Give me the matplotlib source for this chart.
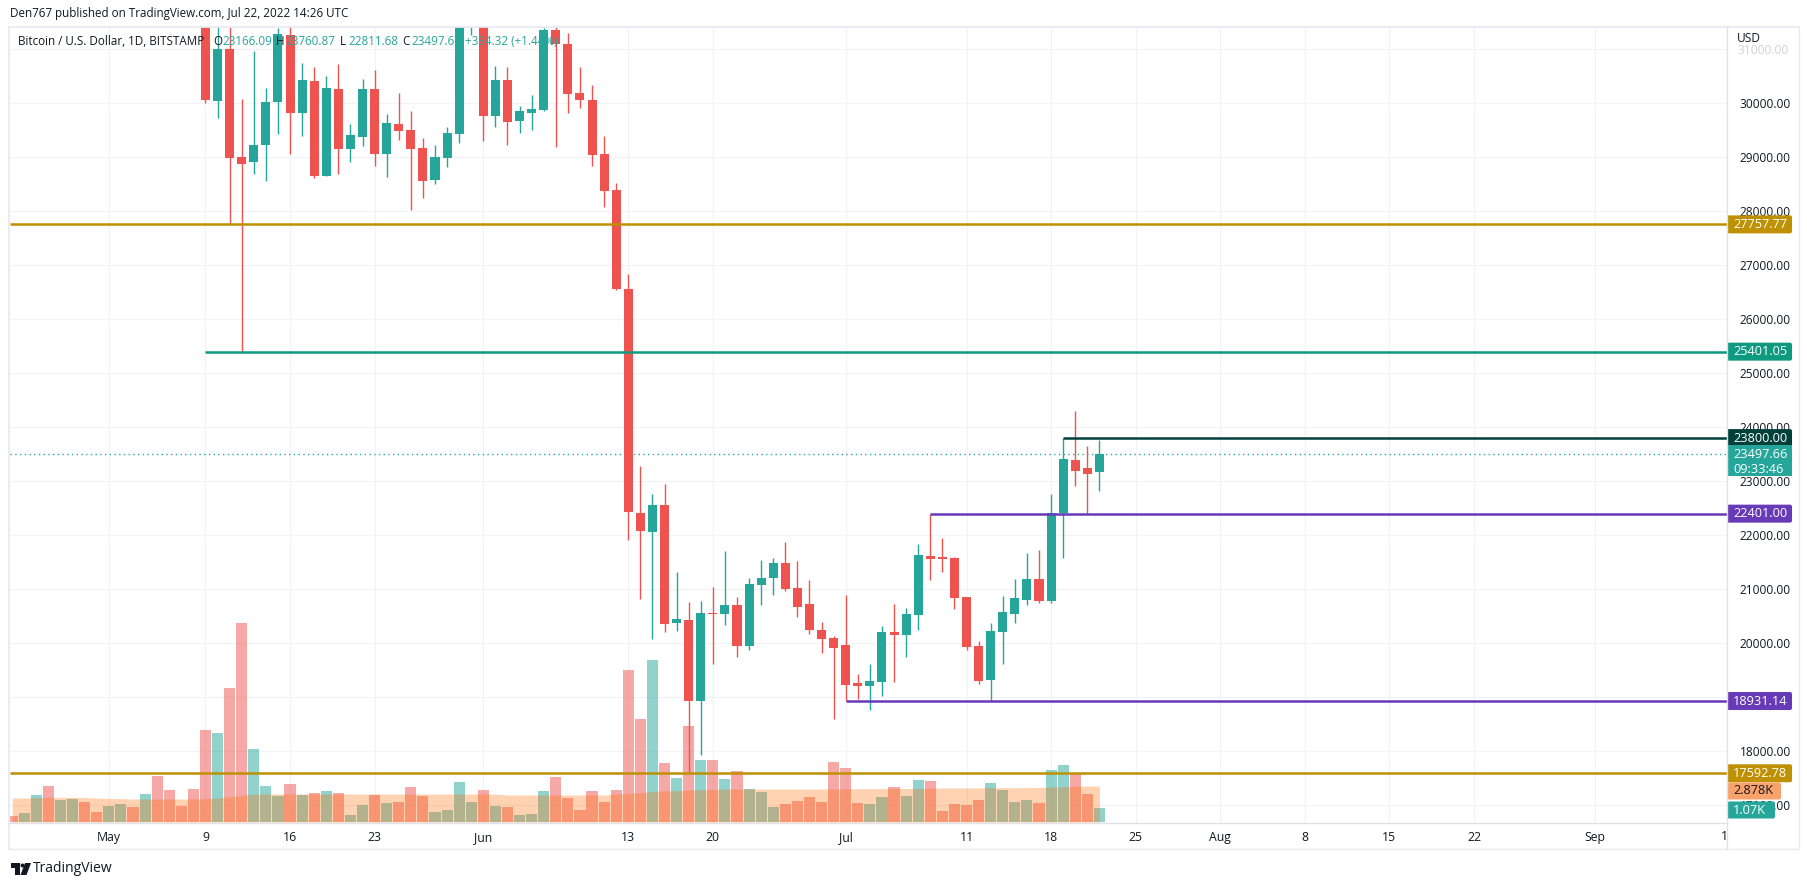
"""BTC/USD daily chart, TradingView look, rebuilt with matplotlib."""

import matplotlib
matplotlib.use("Agg")
import matplotlib.dates as mdates
import matplotlib.pyplot as plt
import pandas as pd
from matplotlib.patches import Circle, FancyBboxPatch, Polygon, Rectangle

plt.rcParams["font.family"] = ["Open Sans", "DejaVu Sans"]

UP = "#26a69a"
DOWN = "#ef5350"
GRID = "#f1f3f6"
FRAME = "#e9eaf2"
TEXT = "#131722"
GOLD = "#bf9000"
TEAL_LINE = "#0e9a80"
DARK_TEAL = "#00403a"
PURPLE = "#673ab7"

# candles, one per day from May 9 to Jul 22 2022
candle_start = "2022-05-09"
opens = [34000, 30043, 31006, 29006, 28914, 29229, 30025, 31265, 29821, 30413,
         28655, 30265, 29155, 29377, 30265, 29062, 29617, 29506, 29173, 28580,
         28988, 29432, 31700, 31800, 29765, 30432, 29673, 29821, 29877, 31357,
         31098, 30190, 30061, 29061, 28395, 26561, 22414, 22062, 22562, 20376,
         20432, 18932, 20568, 20543, 20710, 19951, 21080, 21210, 21488, 21025,
         20728, 20247, 20099, 19969, 19265, 19210, 19284, 20210, 20154, 20525,
         21617, 21599, 21580, 20858, 19951, 19321, 20210, 20543, 20802, 21191,
         20784, 22414, 23395, 23240, 23166.09]
highs = [34240, 32600, 32100, 30080, 30969, 30284, 31400, 31450, 30747, 30673,
         30506, 30728, 29617, 30450, 30617, 29803, 30191, 29858, 29358, 29229,
         29562, 32200, 32400, 32000, 30691, 30673, 29950, 30154, 31400, 31550,
         31300, 30672, 30339, 29395, 28524, 26840, 23284, 22765, 22951, 21321,
         20765, 20784, 21043, 21710, 20858, 21210, 21543, 21580, 21876, 21525,
         21173, 20395, 20136, 20895, 19432, 19617, 20321, 20728, 20654, 21840,
         22401, 21951, 21599, 20858, 20043, 20376, 20877, 21191, 21673, 21727,
         22757, 23800, 24295, 23650, 23760.87]
lows = [30010, 29735, 27757.77, 25401.05, 28692, 28562, 29432, 29062, 29395, 28618,
        28655, 28692, 28914, 29210, 28840, 28636, 29321, 28026, 28248, 28507,
        28821, 29266, 31265, 29303, 29562, 29229, 29451, 29506, 29858, 29192,
        29826, 29913, 28839, 28080, 26541, 21913, 20821, 20080, 20210, 20228,
        17592.78, 17932, 19617, 20340, 19747, 19877, 20710, 20895, 20969, 20487,
        20173, 19821, 18599, 18931.14, 18969, 18765, 19025, 19284, 19747, 20247,
        21173, 21321, 20636, 19877, 19247, 18932, 19617, 20376, 20716, 20747,
        20747, 21575, 22913, 22401, 22811.68]
closes = [30060, 31006, 28994, 28877, 29229, 30025, 31283, 29821, 30432, 28655,
          30284, 29155, 29414, 30265, 29062, 29636, 29488, 29155, 28562, 29006,
          29451, 31700, 31790, 29765, 30432, 29654, 29858, 29895, 31357, 31098,
          30172, 30061, 29043, 28376, 26561, 22431, 22080, 22562, 20358, 20450,
          18932, 20562, 20543, 20710, 19951, 21099, 21210, 21488, 21006, 20673,
          20247, 20080, 19914, 19228, 19210, 19302, 20210, 20154, 20543, 21636,
          21562, 21562, 20839, 19932, 19302, 20228, 20580, 20840, 21191, 20784,
          22414, 23420, 23190, 23140, 23497.66]

# volume in thousands, one per day from Apr 23 to Jul 22 2022
volume_start = "2022-04-23"
volumes = [0.47, 0.70, 2.09, 2.79, 1.71, 1.78, 1.55, 0.78, 1.24, 1.40, 1.16, 2.17,
           3.57, 2.48, 1.24, 2.56, 7.13, 6.90, 10.39, 15.43, 5.66, 2.79, 2.02, 2.95,
           2.09, 2.25, 2.40, 2.25, 0.54, 1.32, 2.09, 1.47, 1.55, 2.71, 2.02, 0.78,
           0.93, 3.10, 1.55, 2.48, 1.24, 1.16, 0.54, 0.62, 2.40, 3.49, 1.86, 0.93,
           2.40, 1.55, 2.48, 11.78, 7.98, 12.56, 4.57, 3.41, 7.44, 4.81, 4.81, 3.33,
           3.95, 2.56, 2.33, 1.16, 1.40, 1.63, 1.94, 1.55, 4.65, 4.19, 1.47, 1.40,
           1.94, 2.71, 2.02, 3.26, 3.18, 0.85, 1.40, 1.32, 1.71, 3.02, 2.48, 1.55,
           1.71, 1.47, 4.03, 4.42, 3.80, 2.17, 1.09]
volume_up = [0, 1, 1, 0, 1, 1, 0, 0, 1, 1, 0, 1, 0, 0, 0, 0, 0, 1, 0, 0, 1, 1, 1, 0,
             1, 0, 1, 0, 1, 1, 0, 1, 0, 0, 0, 1, 1, 1, 1, 0, 1, 0, 1, 1, 1, 0, 0, 0,
             0, 0, 0, 0, 0, 1, 0, 1, 0, 1, 0, 1, 0, 1, 1, 1, 0, 0, 0, 0, 0, 0, 0, 1,
             1, 0, 1, 1, 0, 0, 0, 0, 0, 1, 1, 1, 1, 0, 1, 1, 0, 0, 1]
volume_ma = [1.86, 1.86, 1.89, 1.91, 1.91, 1.91, 1.89, 1.86, 1.83, 1.81, 1.78, 1.78,
             1.78, 1.78, 1.78, 1.78, 1.81, 1.86, 1.96, 2.07, 2.17, 2.17, 2.17, 2.17,
             2.17, 2.17, 2.17, 2.17, 2.17, 2.17, 2.17, 2.17, 2.17, 2.17, 2.17, 2.17,
             2.17, 2.17, 2.17, 2.17, 2.17, 2.09, 2.09, 2.09, 2.09, 2.09, 2.09, 2.09,
             2.09, 2.09, 2.17, 2.22, 2.27, 2.38, 2.40, 2.43, 2.48, 2.51, 2.53, 2.56,
             2.56, 2.56, 2.56, 2.56, 2.56, 2.56, 2.56, 2.56, 2.56, 2.58, 2.58, 2.58,
             2.58, 2.60, 2.60, 2.60, 2.61, 2.64, 2.64, 2.64, 2.64, 2.66, 2.66, 2.66,
             2.66, 2.69, 2.71, 2.74, 2.76, 2.79, 2.79]

price_ticks = list(range(18000, 31000, 1000))
time_ticks = ["2022-05-01", "2022-05-09", "2022-05-16", "2022-05-23", "2022-06-01",
              "2022-06-13", "2022-06-20", "2022-07-01", "2022-07-11", "2022-07-18",
              "2022-07-25", "2022-08-01", "2022-08-08", "2022-08-15", "2022-08-22",
              "2022-09-01"]
time_labels = ["May", "9", "16", "23", "Jun", "13", "20", "Jul", "11", "18", "25",
               "Aug", "8", "15", "22", "Sep"]

# price level, first day of the line (None = whole width), colour, label
levels = [
    (27757.77, None, GOLD, "27757.77"),
    (25401.05, "2022-05-09", TEAL_LINE, "25401.05"),
    (23800.00, "2022-07-19", DARK_TEAL, "23800.00"),
    (22401.00, "2022-07-08", PURPLE, "22401.00"),
    (18931.14, "2022-07-01", PURPLE, "18931.14"),
    (17592.78, None, GOLD, "17592.78"),
]
last_price = 23497.66

W, H = 1807, 885
LEFT, RIGHT, TOP, BOTTOM = 9.5, 1727.0, 26.7, 823.0
PX_PER_DAY = 12.08
PX_PER_K = 12.9
FIRST_X_PX = 12.2

fig = plt.figure(figsize=(W / 100, H / 100), dpi=100, facecolor="white")
rect = [LEFT / W, 1 - BOTTOM / H, (RIGHT - LEFT) / W, (BOTTOM - TOP) / H]
ax_bg = fig.add_axes(rect, zorder=1)
ax_vol = fig.add_axes(rect, zorder=2)
ax = fig.add_axes(rect, zorder=3)

day0 = mdates.date2num(pd.Timestamp(volume_start))
xlim = (day0 + (LEFT - FIRST_X_PX) / PX_PER_DAY, day0 + (RIGHT - FIRST_X_PX) / PX_PER_DAY)
ylim = (30000 - (BOTTOM - 103.3) / 0.054, 30000 + (103.3 - TOP) / 0.054)

tick_x = [mdates.date2num(pd.Timestamp(d)) for d in time_ticks]
grid_prices = [17000] + price_ticks + [31000]

# grid sits under the volume bars
ax_bg.set_xlim(xlim)
ax_bg.set_ylim(ylim)
ax_bg.set_xticks(tick_x)
ax_bg.set_yticks(grid_prices)
ax_bg.grid(True, color=GRID, linewidth=0.9)
ax_bg.tick_params(length=0, labelbottom=False, labelleft=False)
for s in ax_bg.spines.values():
    s.set_visible(False)

# volume panel
vol_days = mdates.date2num(pd.date_range(volume_start, periods=len(volumes)))
vol_colors = [UP if u else DOWN for u in volume_up]
ax_vol.bar(vol_days, volumes, width=0.92, color=vol_colors, alpha=0.5, linewidth=0)
ax_vol.fill_between(vol_days, 0, volume_ma, color="#ff6d00", alpha=0.3, linewidth=0)
ax_vol.set_xlim(xlim)
ax_vol.set_ylim(-1 / PX_PER_K, (BOTTOM - 1 - TOP) / PX_PER_K)
ax_vol.axis("off")

# candles
days = mdates.date2num(pd.date_range(candle_start, periods=len(opens)))
colors = [UP if c >= o else DOWN for o, c in zip(opens, closes)]
ax.vlines(days, lows, highs, colors=colors, linewidth=1.0, zorder=3)
ax.bar(days, [abs(c - o) for o, c in zip(opens, closes)],
       bottom=[min(o, c) for o, c in zip(opens, closes)],
       width=0.75, color=colors, linewidth=0, zorder=4)

ax.plot(xlim, [last_price, last_price], color=UP, linewidth=1.0,
        linestyle=(0, (1, 2.4)), zorder=2)
for price, start, color, _ in levels:
    x0 = xlim[0] if start is None else mdates.date2num(pd.Timestamp(start))
    ax.plot([x0, xlim[1]], [price, price], color=color, linewidth=1.8,
            solid_capstyle="butt", zorder=5)

ax.set_xlim(xlim)
ax.set_ylim(ylim)
ax.patch.set_visible(False)
ax.set_xticks(tick_x)
ax.set_xticklabels(time_labels, fontsize=8.8, color=TEXT)
ax.yaxis.tick_right()
ax.set_yticks(price_ticks + [17000])
ax.set_yticklabels([f"{p}.00" for p in price_ticks + [17000]], fontsize=8.6, color=TEXT)
ax.tick_params(axis="y", length=0, pad=9)
ax.tick_params(axis="x", length=0, pad=6)
for s in ax.spines.values():
    s.set_visible(False)

# pixel overlay for the TradingView furniture
ov = fig.add_axes([0, 0, 1, 1], zorder=5)
ov.set_xlim(0, W)
ov.set_ylim(H, 0)
ov.axis("off")
ov.patch.set_visible(False)


def price_to_px(price):
    return H - ax.transData.transform((xlim[0], price))[1]


def label_box(x0, x1, yc, height, color, text, text_color="white"):
    ov.add_patch(FancyBboxPatch((x0 + 1, yc - height / 2 + 1), x1 - x0 - 2, height - 2,
                                boxstyle="round,pad=1,rounding_size=2", fc=color, ec="none"))
    ov.text(x0 + 6, yc, text, color=text_color, fontsize=9.2, va="center", ha="left")


# chart frame
ov.plot([LEFT, LEFT], [TOP, 849], color=FRAME, linewidth=1.3)
ov.plot([LEFT, 1799], [TOP, TOP], color=FRAME, linewidth=1.3)
ov.plot([LEFT, 1799], [849, 849], color=FRAME, linewidth=1.0)
ov.plot([1799, 1799], [TOP, 849], color=FRAME, linewidth=1.0)
ov.plot([LEFT, RIGHT], [BOTTOM, BOTTOM], color="#dfe1e6", linewidth=1.0)
ov.plot([RIGHT, RIGHT], [TOP, 849], color="#dfe1e6", linewidth=1.0)

ov.text(1737, 39, "USD", fontsize=8.6, color=TEXT, va="center")
ov.text(1737, price_to_px(31000) + 1, "31000.00", fontsize=8.6, color=TEXT, alpha=0.2, va="center")
ov.text(1724, 836, "1", fontsize=8.8, color=TEXT, va="center", ha="center")

for price, _, color, text in levels:
    label_box(RIGHT, 1792, price_to_px(price), 18, color, text)

# last price box has a countdown under the price
py = price_to_px(last_price)
ov.add_patch(Rectangle((RIGHT, py - 9), 1792 - RIGHT, 31, fc=UP, ec="none"))
ov.text(RIGHT + 6, py, "23497.66", color="white", fontsize=9.2, va="center")
ov.text(RIGHT + 6, py + 15, "09:33:46", color="white", fontsize=9.2, va="center")
label_box(RIGHT, 1781, 791, 17, "#f9a26c", "2.878K", TEXT)
label_box(RIGHT, 1775, 810, 17, UP, "1.07K")

# header and legend
ov.text(10, 14, "Den767 published on TradingView.com, Jul 22, 2022 14:26 UTC",
        fontsize=8.4, color=TEXT, va="center")
ov.text(18, 41.5, "Bitcoin / U.S. Dollar, 1D, BITSTAMP", fontsize=8.4, color=TEXT, va="center")
legend_bits = [(213, "O", TEXT), (222, "23166.09", UP), (276, "H", TEXT), (285, "23760.87", UP),
               (340, "L", TEXT), (348, "22811.68", UP), (402, "C", TEXT), (411, "23497.66", UP),
               (465, "+334.32 (+1.44%)", UP)]
for x, s, color in legend_bits:
    ov.text(x, 41.5, s, fontsize=8.4, color=color, va="center")

# logo
ov.add_patch(Polygon([(11, 863), (20, 863), (20, 875), (15, 875), (15, 868), (11, 868)],
                     fc=TEXT, ec="none"))
ov.add_patch(Circle((22.5, 865.5), 2, fc=TEXT, ec="none"))
ov.add_patch(Polygon([(25, 863), (31, 863), (26.5, 875), (20.5, 875)], fc=TEXT, ec="none"))
ov.text(33, 868.5, "TradingView", fontsize=10, color=TEXT, va="center")

fig.savefig("out.png", dpi=100)
